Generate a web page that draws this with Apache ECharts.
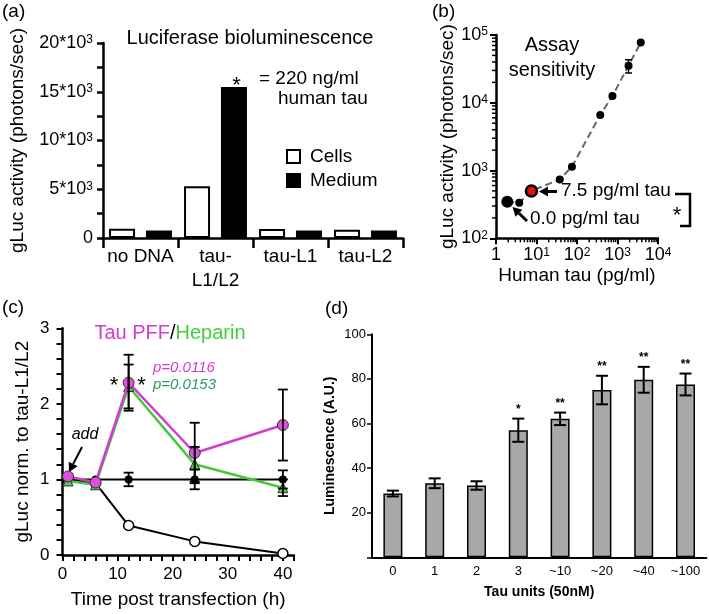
<!DOCTYPE html>
<html><head><meta charset="utf-8">
<script src="https://cdn.jsdelivr.net/npm/echarts@6/dist/echarts.min.js"></script>
<style>html,body{margin:0;padding:0;background:#fff}#c{width:709px;height:614px}</style>
</head><body><div id="c"></div>
<script>
// ---------- Panel (a) ----------
const aCategories = ['no DNA', 'tau-\nL1/L2', 'tau-L1', 'tau-L2'];
const aCells = [950, 5300, 920, 850];
const aMedium = [780, 15500, 760, 760];
const aTickLabels = {0: '0', 5000: '5*10{s|3}', 10000: '10*10{s|3}', 15000: '15*10{s|3}', 20000: '20*10{s|3}'};

// ---------- Panel (b) ----------
const bTau = [1.9, 3.75, 7.5, 37.5, 75, 375, 750, 1875, 3750];
const bActivity = [345, 335, 500, 740, 1140, 6600, 12600, 35300, 77500];
const bErr = [0, 0, 0, 0, 0, 0, 0, 7800, 0];
const bXTickLabels = {1: '1', 10: '10{s|1}', 100: '10{s|2}', 1000: '10{s|3}', 10000: '10{s|4}'};
const bYTickLabels = {100: '10{s|2}', 1000: '10{s|3}', 10000: '10{s|4}', 100000: '10{s|5}'};

// ---------- Panel (c) ----------
const cTime = [1, 6, 12, 24, 40];
const cControl = [1.0, 1.0, 1.0, 1.0, 1.0];
const cControlErr = [0, 0, 0.09, 0.13, 0.12];
const cOpen = [1.0, 0.95, 0.39, 0.18, 0.02];
const cPFF = [1.04, 0.96, 2.28, 1.35, 1.72];
const cPFFErr = [0, 0, 0.37, 0.40, 0.47];
const cHeparin = [0.98, 0.93, 2.23, 1.20, 0.89];
const cHeparinErr = [0, 0, 0.29, 0.23, 0.11];

// ---------- Panel (d) ----------
const dCategories = ['0', '1', '2', '3', '~10', '~20', '~40', '~100'];
const dValues = [28.6, 33.2, 32.2, 57.0, 62.1, 75.0, 79.6, 77.5];
const dErr = [1.3, 2.2, 1.9, 5.2, 2.8, 6.4, 5.8, 4.9];
const dStars = ['', '', '', '*', '**', '**', '**', '**'];

const FONT = '"Liberation Sans", Arial, Helvetica, sans-serif';
const MAGENTA = '#d23ad2';
const GREEN = '#46c83a';
const DKGREEN = '#2e9a5a';

const chart = echarts.init(document.getElementById('c'), null, {renderer: 'canvas'});

function errRender(capHalf, lw, stars) {
  return function (params, api) {
    const x = api.value(0), y = api.value(1), e = api.value(2);
    const children = [];
    if (e > 0) {
      const t = api.coord([x, y + e]), b = api.coord([x, y - e]);
      const st = {stroke: '#000', lineWidth: lw};
      children.push({type: 'line', shape: {x1: t[0], y1: t[1], x2: b[0], y2: b[1]}, style: st});
      children.push({type: 'line', shape: {x1: t[0] - capHalf, y1: t[1], x2: t[0] + capHalf, y2: t[1]}, style: st});
      children.push({type: 'line', shape: {x1: b[0] - capHalf, y1: b[1], x2: b[0] + capHalf, y2: b[1]}, style: st});
      if (stars && stars[params.dataIndex]) {
        children.push({type: 'text', x: t[0], y: t[1] - 3, style: {text: stars[params.dataIndex], fontSize: 12, fontWeight: 'bold', fontFamily: FONT, fill: '#000', align: 'center', verticalAlign: 'bottom'}});
      }
    }
    return {type: 'group', children};
  };
}

function arrow(x1, y1, x2, y2, w, head) {
  const dx = x2 - x1, dy = y2 - y1, L = Math.hypot(dx, dy), ux = dx / L, uy = dy / L;
  const bx = x2 - ux * head, by = y2 - uy * head, px = -uy, py = ux, hw = head * 0.55;
  return [
    {type: 'line', silent: true, shape: {x1, y1, x2: bx, y2: by}, style: {stroke: '#000', lineWidth: w}},
    {type: 'polygon', silent: true, shape: {points: [[x2, y2], [bx + px * hw, by + py * hw], [bx - px * hw, by - py * hw]]}, style: {fill: '#000'}}
  ];
}

function txt(x, y, text, opt) {
  return Object.assign({type: 'text', silent: true, x, y, style: Object.assign({text, fontSize: 19, fontFamily: FONT, fill: '#000', align: 'left', verticalAlign: 'middle'}, opt || {})});
}

// minor tick positions for log axes of panel (b)
const bMinor = [];
for (let d = 1; d < 10000; d *= 10) for (let k = 2; k <= 9; k++) bMinor.push([k * d, 100, 0]);
for (let d = 100; d < 100000; d *= 10) for (let k = 2; k <= 9; k++) bMinor.push([1, k * d, 1]);

// per-point marker styles in (b): first = 0.0 pg/ml (large), third = 7.5 pg/ml (red)
const bPoints = bTau.map((t, i) => {
  if (i === 0) return {value: [t, bActivity[i]], symbolSize: 12, itemStyle: {color: '#000'}};
  if (i === 2) return {value: [t, bActivity[i]], symbolSize: 11, itemStyle: {color: '#e01010', borderColor: '#000', borderWidth: 2.5}};
  return {value: [t, bActivity[i]], symbolSize: 8, itemStyle: {color: '#000'}};
});

const supRich = {s: {fontSize: 12, verticalAlign: 'top', fontFamily: FONT, padding: [0, 0, 6, 0]}};

const axLine = w => ({show: true, onZero: false, lineStyle: {color: '#000', width: w}});

const option = {
  animation: false,
  textStyle: {fontFamily: FONT, color: '#000'},
  grid: [
    {left: 103, top: 43, width: 300, height: 195, outerBoundsMode: 'none', containLabel: false},
    {left: 496, top: 35, width: 162, height: 203.3, outerBoundsMode: 'none', containLabel: false},
    {left: 62.5, top: 328.3, width: 231.4, height: 226.7, outerBoundsMode: 'none', containLabel: false},
    {left: 372, top: 334.3, width: 334.4, height: 223, outerBoundsMode: 'none', containLabel: false}
  ],
  legend: {
    data: ['Cells', 'Medium'], orient: 'vertical', left: 281, top: 142,
    itemWidth: 13, itemHeight: 13, itemGap: 5, icon: 'rect', selectedMode: false,
    textStyle: {fontSize: 19, fontFamily: FONT, color: '#000', padding: [0, 0, 0, 5]}
  },
  xAxis: [
    {gridIndex: 0, type: 'category', data: aCategories, axisLine: axLine(2.5),
      axisTick: {show: true, length: 10, lineStyle: {color: '#000', width: 2.5}},
      axisLabel: {fontSize: 19, color: '#000', margin: 7, lineHeight: 24, interval: 0}},
    {gridIndex: 1, type: 'log', logBase: 10, min: 1, max: 10000, axisLine: axLine(2.5),
      axisTick: {show: true, length: 6, lineStyle: {color: '#000', width: 2}},
      axisLabel: {fontSize: 18, color: '#000', margin: 8, formatter: v => bXTickLabels[Math.round(v)] || '', rich: supRich},
      splitLine: {show: false},
      name: 'Human tau (pg/ml)', nameLocation: 'middle', nameGap: 28, nameTextStyle: {fontSize: 19, color: '#000'}},
    {gridIndex: 2, type: 'value', min: 0, max: 42, interval: 2, axisLine: axLine(2.5),
      axisTick: {show: true, length: 6, lineStyle: {color: '#000', width: 2}},
      axisLabel: {fontSize: 17, color: '#000', margin: 11, showMaxLabel: true, formatter: v => (v % 10 === 0 ? String(v) : '')},
      splitLine: {show: false},
      name: 'Time post transfection (h)', nameLocation: 'middle', nameGap: 35, nameTextStyle: {fontSize: 19, color: '#000'}},
    {gridIndex: 3, type: 'category', data: dCategories, axisLine: axLine(2),
      axisTick: {show: false},
      axisLabel: {fontSize: 13, color: '#000', margin: 8, interval: 0},
      name: 'Tau units (50nM)', nameLocation: 'middle', nameGap: 28, nameTextStyle: {fontSize: 14, fontWeight: 'bold', color: '#000'}}
  ],
  yAxis: [
    {gridIndex: 0, type: 'value', min: 0, max: 20000, interval: 2500, axisLine: axLine(2.5),
      axisTick: {show: true, length: 6, lineStyle: {color: '#000', width: 2.5}},
      axisLabel: {fontSize: 18, color: '#000', margin: 10, formatter: v => aTickLabels[v] || '', rich: supRich},
      splitLine: {show: false},
      name: 'gLuc activity (photons/sec)', nameLocation: 'middle', nameGap: 76, nameTextStyle: {fontSize: 19, color: '#000'}},
    {gridIndex: 1, type: 'log', logBase: 10, min: 100, max: 100000, axisLine: axLine(2.5),
      axisTick: {show: true, length: 6, lineStyle: {color: '#000', width: 2}},
      axisLabel: {fontSize: 18, color: '#000', margin: 8, formatter: v => bYTickLabels[Math.round(v)] || '', rich: supRich},
      splitLine: {show: false},
      name: 'gLuc activity (photons/sec)', nameLocation: 'middle', nameGap: 36, nameTextStyle: {fontSize: 19, color: '#000'}},
    {gridIndex: 2, type: 'value', min: 0, max: 3, interval: 0.2, axisLine: axLine(2.5),
      axisTick: {show: true, length: 6, lineStyle: {color: '#000', width: 2}},
      axisLabel: {fontSize: 17, color: '#000', margin: 13, formatter: v => (Math.abs(v - Math.round(v)) < 1e-6 ? String(Math.round(v)) : '')},
      splitLine: {show: false},
      name: 'gLuc norm. to tau-L1/L2', nameLocation: 'middle', nameGap: 30, nameTextStyle: {fontSize: 19, color: '#000'}},
    {gridIndex: 3, type: 'value', min: 0, max: 100, interval: 20, axisLine: axLine(2),
      axisTick: {show: true, length: 5, lineStyle: {color: '#000', width: 1.5}},
      axisLabel: {fontSize: 13, color: '#000', margin: 6, formatter: v => (v === 0 ? '' : String(v))},
      splitLine: {show: false},
      name: 'Luminescence (A.U.)', nameLocation: 'middle', nameGap: 35, nameTextStyle: {fontSize: 14, fontWeight: 'bold', color: '#000'}}
  ],
  series: [
    // (a)
    {name: 'Cells', type: 'bar', xAxisIndex: 0, yAxisIndex: 0, data: aCells, barWidth: 26, barGap: '42%',
      itemStyle: {color: '#fff', borderColor: '#000', borderWidth: 2}},
    {name: 'Medium', type: 'bar', xAxisIndex: 0, yAxisIndex: 0, data: aMedium, barWidth: 26, barGap: '42%',
      itemStyle: {color: '#000', borderColor: '#000', borderWidth: 2}},
    // (b)
    {type: 'custom', xAxisIndex: 1, yAxisIndex: 1, data: bMinor, silent: true, clip: false, z: 1,
      renderItem: (params, api) => {
        const kind = api.value(2);
        const p = api.coord([api.value(0), api.value(1)]);
        if (kind === 0) return {type: 'line', shape: {x1: p[0], y1: p[1], x2: p[0], y2: p[1] + 4}, style: {stroke: '#000', lineWidth: 1.5}};
        return {type: 'line', shape: {x1: p[0] - 4, y1: p[1], x2: p[0], y2: p[1]}, style: {stroke: '#000', lineWidth: 1.5}};
      }},
    {type: 'line', xAxisIndex: 1, yAxisIndex: 1, data: bPoints, z: 3,
      lineStyle: {color: '#666', width: 2, type: [7, 4]}, showSymbol: true, symbol: 'circle',
      emphasis: {disabled: true}},
    {type: 'custom', xAxisIndex: 1, yAxisIndex: 1, data: bTau.map((t, i) => [t, bActivity[i], bErr[i]]), silent: true, z: 4,
      renderItem: errRender(3.5, 1.5)},
    // (c)
    {type: 'line', xAxisIndex: 2, yAxisIndex: 2, data: cTime.map((t, i) => [t, cOpen[i]]), z: 3,
      lineStyle: {color: '#000', width: 2}, symbol: 'circle', symbolSize: 10, showSymbol: true,
      itemStyle: {color: '#fff', borderColor: '#000', borderWidth: 1.5}, emphasis: {disabled: true}},
    {type: 'line', xAxisIndex: 2, yAxisIndex: 2, data: cTime.map((t, i) => [t, cControl[i]]), z: 3,
      lineStyle: {color: '#000', width: 2}, symbol: 'circle', symbolSize: 8, showSymbol: true,
      itemStyle: {color: '#000'}, emphasis: {disabled: true}},
    {type: 'line', xAxisIndex: 2, yAxisIndex: 2, data: cTime.map((t, i) => [t, cHeparin[i]]), z: 4,
      lineStyle: {color: GREEN, width: 2.5}, symbol: 'triangle', symbolSize: 10, showSymbol: true,
      itemStyle: {color: '#5cc84e', borderColor: '#333', borderWidth: 1}, emphasis: {disabled: true}},
    {type: 'line', xAxisIndex: 2, yAxisIndex: 2, data: cTime.map((t, i) => [t, cPFF[i]]), z: 5,
      lineStyle: {color: MAGENTA, width: 2.5}, symbol: 'circle', symbolSize: 11, showSymbol: true,
      itemStyle: {color: '#e050e0', borderColor: '#333', borderWidth: 1}, emphasis: {disabled: true}},
    {type: 'custom', xAxisIndex: 2, yAxisIndex: 2, silent: true, z: 6,
      data: [].concat(
        cTime.map((t, i) => [t, cControl[i], cControlErr[i]]),
        cTime.map((t, i) => [t, cPFF[i], cPFFErr[i]]),
        cTime.map((t, i) => [t, cHeparin[i], cHeparinErr[i]])),
      renderItem: errRender(5, 1.8)},
    // (d)
    {type: 'bar', xAxisIndex: 3, yAxisIndex: 3, data: dValues, barWidth: 19,
      itemStyle: {color: '#a8a8a8', borderColor: '#000', borderWidth: 1.5}},
    {type: 'custom', xAxisIndex: 3, yAxisIndex: 3, silent: true, z: 6,
      data: dValues.map((v, i) => [i, v, dErr[i]]),
      renderItem: errRender(6, 2, dStars)}
  ],
  graphic: [].concat(
    [
      txt(2, 12, '(a)'), txt(432, 12, '(b)'), txt(2, 308, '(c)'), txt(325, 309, '(d)'),
      txt(250, 38, 'Luciferase bioluminescence', {align: 'center', fontSize: 20}),
      txt(236.5, 86, '*', {align: 'center', fontSize: 22}),
      txt(259, 79, '= 220 ng/ml'),
      txt(278, 99, 'human tau'),
      txt(552, 45, 'Assay', {align: 'center', fontSize: 20}),
      txt(552, 70, 'sensitivity', {align: 'center', fontSize: 20}),
      txt(561, 191, '7.5 pg/ml tau'),
      txt(530, 219, '0.0 pg/ml tau'),
      txt(677, 216, '*', {align: 'center', fontSize: 22}),
      {type: 'polyline', silent: true, shape: {points: [[675, 194], [690, 194], [690, 226], [680, 226]]}, style: {stroke: '#000', lineWidth: 2.5, fill: null}},
      txt(170, 333, '{m|Tau PFF}{k|/}{g|Heparin}', {align: 'center', fontSize: 20,
        rich: {m: {fill: MAGENTA, fontSize: 20, fontFamily: FONT}, k: {fill: '#000', fontSize: 20, fontFamily: FONT}, g: {fill: '#3fcf3f', fontSize: 20, fontFamily: FONT}}}),
      txt(153, 368, 'p=0.0116', {fontSize: 15, fontStyle: 'italic', fill: MAGENTA}),
      txt(153, 385, 'p=0.0153', {fontSize: 15, fontStyle: 'italic', fill: DKGREEN}),
      txt(114, 386, '*', {align: 'center', fontSize: 22}),
      txt(141.5, 386, '*', {align: 'center', fontSize: 22}),
      txt(85, 435, 'add', {align: 'center', fontSize: 16, fontStyle: 'italic'})
    ],
    arrow(557, 191.5, 539, 191.5, 3, 9),
    arrow(527, 221, 512.5, 207, 3, 9),
    arrow(82, 447, 69, 472, 2, 9)
  )
};
chart.setOption(option);
</script>
</body></html>
